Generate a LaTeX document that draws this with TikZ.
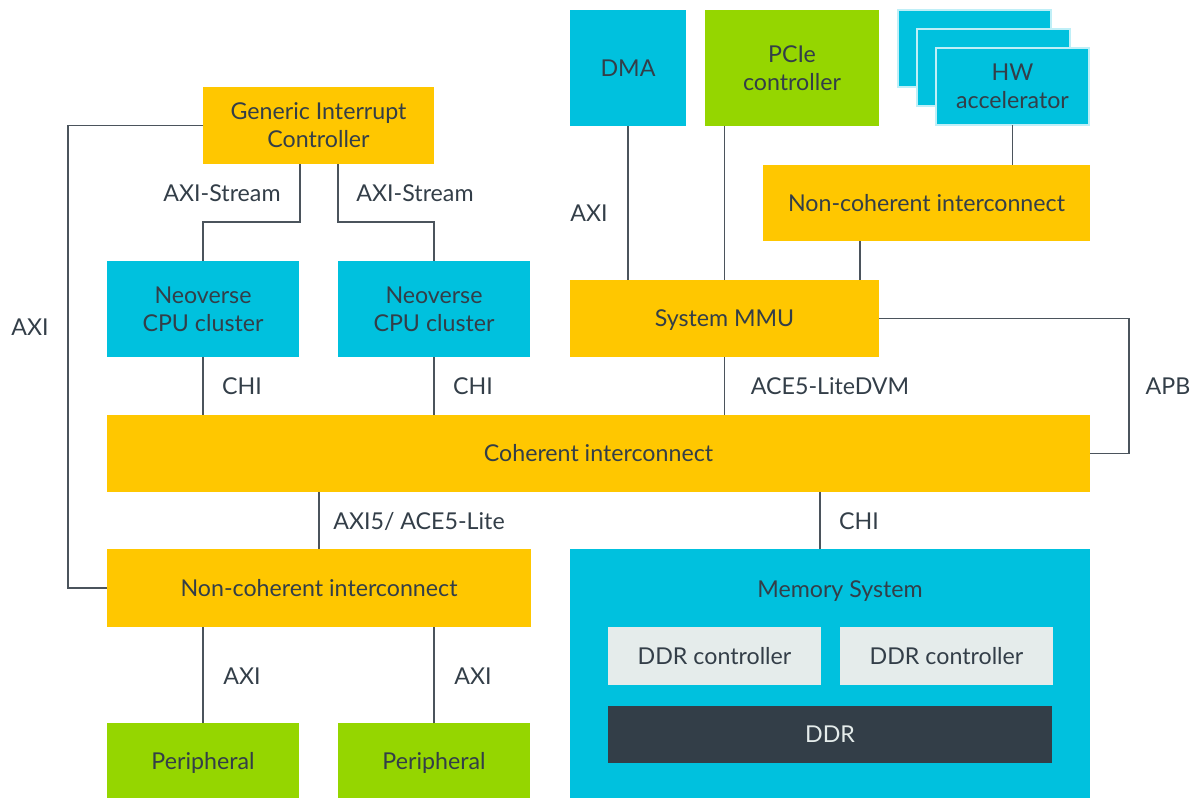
\documentclass[tikz,border=0pt]{standalone}
\usepackage{fontspec}
\setmainfont{Lato}
\usetikzlibrary{calc}
\definecolor{armcyan}{HTML}{00C1DE}
\definecolor{armyellow}{HTML}{FFC700}
\definecolor{armgreen}{HTML}{95D600}
\definecolor{armtext}{HTML}{333E48}
\definecolor{armlight}{HTML}{E5ECEB}
\definecolor{armline}{HTML}{4B545C}
\newcommand\bx[7]{%
  \pgfmathsetmacro\bxcx{(#3+#5)/2}%
  \pgfmathsetmacro\bxcy{(#4+#6)/2}%
  \pgfmathsetmacro\bxw{(#5-#3)/2}%
  \pgfmathsetmacro\bxh{(#6-#4)/2}%
  \node[#1,minimum width=\bxw pt,minimum height=\bxh pt] (#2) at (\bxcx,\bxcy) {#7};}
\begin{document}
\begin{tikzpicture}[x=0.5pt,y=-0.5pt,
  box/.style={inner sep=0pt,outer sep=0pt,align=center,text=armtext,font=\fontsize{11.6}{14}\selectfont},
  cyanbox/.style={box,fill=armcyan},
  yelbox/.style={box,fill=armyellow},
  grnbox/.style={box,fill=armgreen},
  greybox/.style={box,fill=armlight},
  darkbox/.style={box,fill=armtext,text=armlight},
  hwbox/.style={box,fill=armcyan,draw=white!75!armcyan,line width=0.6pt},
  nodepth/.style={text depth=0pt},
  conn/.style={draw=armline,line width=0.65pt},
  lbl/.style={text=armtext,font=\fontsize{11.6}{14}\selectfont,inner sep=0pt}]
\useasboundingbox (0,0) rectangle (1199,798);
% top row
\bx{cyanbox}{dma}{570}{10}{686}{126}{DMA}
\bx{grnbox}{pcie}{705}{10}{879}{126}{PCIe\\controller}
\bx{hwbox}{hwc}{898}{10}{1051}{87}{}
\bx{hwbox}{hwb}{917}{29}{1070}{106}{}
\bx{hwbox}{hw}{936}{48}{1089}{125}{HW\\accelerator}
\bx{yelbox}{nci}{763}{165}{1090}{241}{Non-coherent interconnect}
\bx{yelbox,nodepth}{mmu}{570}{280}{879}{357}{System MMU}
% left side
\bx{yelbox}{gic}{203}{87}{434}{164}{Generic Interrupt\\Controller}
\bx{cyanbox}{cpua}{107}{261}{299}{357}{Neoverse\\CPU cluster}
\bx{cyanbox}{cpub}{338}{261}{530}{357}{Neoverse\\CPU cluster}
% coherent interconnect
\bx{yelbox}{coh}{107}{415}{1090}{492}{Coherent interconnect}
% bottom
\bx{yelbox}{ncb}{107}{549}{531}{627}{Non-coherent interconnect}
\bx{grnbox,nodepth}{pera}{107}{723}{299}{798}{Peripheral}
\bx{grnbox,nodepth}{perb}{338}{723}{530}{798}{Peripheral}
\bx{cyanbox}{mem}{570}{549}{1090}{798}{}
\node[lbl] (memlbl) at (840,591) {Memory System};
\bx{greybox}{ddrca}{608}{627}{821}{685}{DDR controller}
\bx{greybox}{ddrcb}{840}{627}{1053}{685}{DDR controller}
\bx{darkbox}{ddr}{608}{706}{1052}{763}{DDR}
% connectors
\draw[conn] (dma.south) -- (dma.south |- mmu.north);
\draw[conn] (mmu.north) -- (mmu.north |- pcie.south);
\draw[conn] (hw.south) -- (hw.south |- nci.north);
\coordinate (nciport) at ($(nci.south west)!0.297!(nci.south east)$);
\draw[conn] (nciport) -- (nciport |- mmu.north);
\draw[conn] (mmu.south) -- (mmu.south |- coh.north);
\draw[conn] (mmu.east) -- ++(250,0) |- (coh.east);
\coordinate (gicl) at ($(gic.south)+(-18.5,0)$);
\coordinate (gicr) at ($(gic.south)+(19.5,0)$);
\draw[conn] (gicl) -- ++(0,58) -| (cpua.north);
\draw[conn] (gicr) -- ++(0,58) -| (cpub.north);
\draw[conn] (gic.west) -- ++(-135,0) |- (ncb.west);
\draw[conn] (cpua.south) -- (cpua.south |- coh.north);
\draw[conn] (cpub.south) -- (cpub.south |- coh.north);
\draw[conn] (ncb.north) -- (ncb.north |- coh.south);
\coordinate (memport) at ($(mem.north)+(-10,0)$);
\draw[conn] (memport) -- (memport |- coh.south);
\draw[conn] (pera.north) -- (pera.north |- ncb.south);
\draw[conn] (perb.north) -- (perb.north |- ncb.south);
% labels
\node[lbl] (l1) at (222,193) {AXI-Stream};
\node[lbl] (l2) at (415,193) {AXI-Stream};
\node[lbl] (l3) at (589,213) {AXI};
\node[lbl] (l4) at (30,327) {AXI};
\node[lbl] (l5) at (242,386) {CHI};
\node[lbl] (l6) at (473,386) {CHI};
\node[lbl] (l7) at (830,386) {ACE5-LiteDVM};
\node[lbl] (l8) at (1168,386) {APB};
\node[lbl] (l9) at (419,521) {AXI5/ ACE5-Lite};
\node[lbl] (l10) at (859,521) {CHI};
\node[lbl] (l11) at (242,676) {AXI};
\node[lbl] (l12) at (473,676) {AXI};
\end{tikzpicture}
\end{document}
